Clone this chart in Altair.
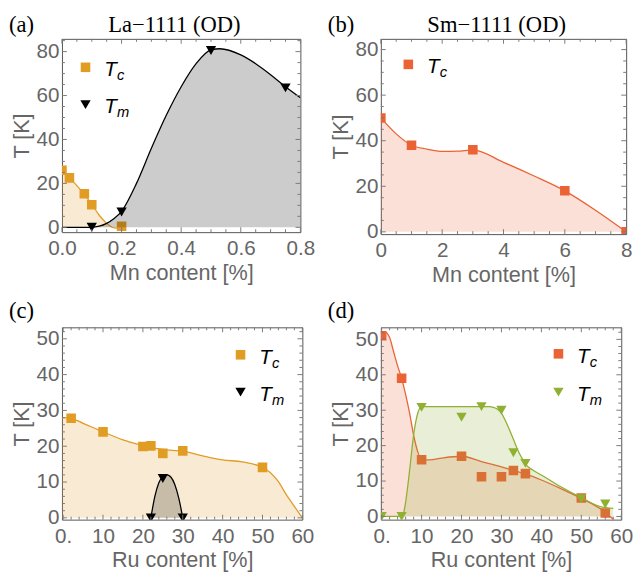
import altair as alt
import pandas as pd

# ---------------- data ----------------
# (a) La-1111 (OD) vs Mn content [%]
a_tc_x = [0.0, 0.025, 0.075, 0.1, 0.2]
a_tc_y = [26.0, 22.5, 15.3, 10.3, 0.5]
a_tm_x = [0.1, 0.2, 0.5, 0.75]
a_tm_y = [0.0, 7.0, 80.5, 63.5]
a_tc_fit_x = [0.0, 0.025, 0.05, 0.075, 0.1, 0.125, 0.15, 0.175, 0.2]
a_tc_fit_y = [26.0, 22.5, 19.0, 15.0, 10.5, 5.5, 1.8, -0.3, -0.5]
a_tm_fit_x = [0.0, 0.05, 0.1, 0.125, 0.15, 0.175, 0.2, 0.25, 0.3, 0.35, 0.4,
              0.45, 0.5, 0.53, 0.6, 0.65, 0.7, 0.75, 0.8]
a_tm_fit_y = [0.0, 0.0, 0.0, 0.5, 1.8, 4.0, 7.3, 20.0, 36.0, 51.0, 64.0,
              74.5, 80.8, 81.3, 78.5, 74.5, 69.5, 64.0, 59.0]

# (b) Sm-1111 (OD) vs Mn content [%]
b_tc_x = [0, 1, 3, 6, 8]
b_tc_y = [50, 38, 36, 18, 0]
b_tc_fit_x = [0, 0.5, 1, 1.5, 2, 2.5, 3, 4, 5, 6, 7, 8]
b_tc_fit_y = [50, 43, 38, 36.3, 35.3, 35.4, 36, 30.5, 24.5, 18, 9.5, 0]

# (c) vs Ru content [%]
c_tc_x = [2, 10, 20, 22, 25, 30, 50]
c_tc_y = [27.8, 24, 19.9, 20.1, 18, 18.7, 14.1]
c_tm_x = [22, 25, 30]
c_tm_y = [0, 11, 0]
c_tc_fit_x = [-0.3, 2, 5, 10, 15, 20, 22, 25, 30, 35, 40, 45, 50, 52, 54, 56, 58, 60]
c_tc_fit_y = [28, 27.8, 26.4, 24, 21.8, 20.2, 19.7, 19.1, 18.6, 17.3, 16.2, 15.6,
              14.1, 12.6, 10.1, 6.4, 3.2, 0]
c_tm_fit_x = [22, 23, 24, 25, 26, 27, 28, 29, 30]
c_tm_fit_y = [0, 6, 9.8, 11.5, 12, 11.4, 9.3, 5.5, 0]

# (d) vs Ru content [%]
d_tc_x = [0, 5, 10, 20, 25, 30, 33, 36, 50, 56]
d_tc_y = [51, 39, 16, 17, 11.2, 11.2, 13, 12.1, 5.2, 1]
d_tm_x = [0, 5, 10, 20, 25, 30, 33, 36, 50, 56]
d_tm_y = [0, 0, 30.8, 28, 31, 30, 18, 15, 5, 3.5]
d_tc_fit_x = [0, 1, 2, 3, 4, 5, 6, 7, 8, 9, 10, 12, 15, 20, 25, 30, 33, 36, 40,
              45, 50, 55, 58]
d_tc_fit_y = [51, 52, 50.5, 46.5, 42.5, 39, 34.5, 29.2, 23, 18.4, 16, 16, 16.5,
              17, 15.5, 14, 13, 12, 10.3, 7.8, 5.1, 2, -0.8]
d_tm_fit_x = [0, 5, 5.5, 6, 7, 8, 9, 10, 15, 20, 25, 27, 28, 29, 30, 31, 32, 33,
              34, 35, 36, 38, 40, 45, 50, 55, 58]
d_tm_fit_y = [0, 0, 1, 4, 13, 23, 29, 31, 31, 31, 31, 31, 30.8, 30.3, 29.2, 27,
              24.5, 21.8, 19, 16.7, 14.8, 13, 11.7, 8.3, 5.3, 2.7, 2.3]

# axis tick values / labels
mn_a_ticks = [0.0, 0.2, 0.4, 0.6, 0.8]
mn_b_ticks = [0, 2, 4, 6, 8]
ru_ticks = [0, 10, 20, 30, 40, 50, 60]
t_ticks_80 = [0, 20, 40, 60, 80]
t_ticks_50 = [0, 10, 20, 30, 40, 50]

panel_titles = ["La\u22121111 (OD)", "Sm\u22121111 (OD)"]
panel_tags = ["(a)", "(b)", "(c)", "(d)"]

# ---------------- style ----------------
YELLOW = "#E19C24"
RED = "#EB6235"
GREEN = "#8FB032"
BLACK = "#000000"
GRAY_TXT = "#666666"
TICK_C = "#7a7a7a"
SANS = "Liberation Sans"
SERIF = "Liberation Serif"


def minor(lo, hi, step, majors):
    out = []
    v = lo
    while v <= hi + 1e-9:
        if all(abs(v - m) > 1e-9 for m in majors):
            out.append(round(v, 6))
        v += step
    return out


def text1(txt, x, y, size, font=SANS, style="normal", color=BLACK, align="left",
          baseline="alphabetic"):
    return alt.Chart(pd.DataFrame({"t": [txt]})).mark_text(
        font=font, fontSize=size, fontStyle=style, color=color,
        align=align, baseline=baseline
    ).encode(text="t:N", x=alt.value(x), y=alt.value(y))


def legend_entry(shape, color, x, y, sub):
    mk = alt.Chart(pd.DataFrame({"k": [0]})).mark_point(
        shape=shape, filled=True, size=95 if shape == "square" else 110,
        color=color, opacity=1
    ).encode(x=alt.value(x), y=alt.value(y))
    t = text1("T", x + 19, y + 9, 21, style="italic")
    s = text1(sub, x + 32, y + 13, 15, style="italic")
    return [mk, t, s]


def panel(W, H, xdom, ydom, xt, xminor_step, yt, yminor_step, xtitle, xfmt,
          xlabelexpr, series, legend, tag, title, tag_dy):
    xaxis_kw = dict(values=xt, title=xtitle, format=xfmt)
    if xlabelexpr:
        xaxis_kw["labelExpr"] = xlabelexpr
    X = alt.X("x:Q", scale=alt.Scale(domain=xdom, nice=False, zero=False),
              axis=alt.Axis(**xaxis_kw))
    Y = alt.Y("y:Q", scale=alt.Scale(domain=ydom, nice=False, zero=False),
              axis=alt.Axis(values=yt, title="T [K]"))
    layers = []
    for (px, py, fx, fy, color, shape) in series:
        fit = pd.DataFrame({"x": fx, "y": fy})
        pts = pd.DataFrame({"x": px, "y": py})
        layers.append(alt.Chart(fit).mark_area(
            interpolate="monotone", color=color, opacity=0.2, clip=True
        ).encode(x=X, y=Y, y2=alt.datum(0)))
        layers.append(alt.Chart(fit).mark_line(
            interpolate="monotone", color=color, strokeWidth=1.3, clip=True
        ).encode(x=X, y=Y))
        layers.append(alt.Chart(pts).mark_point(
            shape=shape, filled=True, opacity=1, color=color,
            size=95 if shape == "square" else 110, clip=True
        ).encode(x=X, y=Y))
    # inward frame ticks
    xmin = minor(xdom[0] if xdom[0] >= 0 else 0, xdom[1], xminor_step, xt)
    ymin = minor(0, ydom[1], yminor_step, yt)
    for vals, ln in ((xt, 5), (xmin, 3)):
        df = pd.DataFrame({"x": vals})
        layers.append(alt.Chart(df).mark_rule(color=TICK_C, strokeWidth=1).encode(
            x=X, y=alt.value(H), y2=alt.value(H - ln)))
        layers.append(alt.Chart(df).mark_rule(color=TICK_C, strokeWidth=1).encode(
            x=X, y=alt.value(0), y2=alt.value(ln)))
    for vals, ln in ((yt, 5), (ymin, 3)):
        df = pd.DataFrame({"y": vals})
        layers.append(alt.Chart(df).mark_rule(color=TICK_C, strokeWidth=1).encode(
            y=Y, x=alt.value(0), x2=alt.value(ln)))
        layers.append(alt.Chart(df).mark_rule(color=TICK_C, strokeWidth=1).encode(
            y=Y, x=alt.value(W), x2=alt.value(W - ln)))
    for (shape, color, lx, ly, sub) in legend:
        layers += legend_entry(shape, color, lx, ly, sub)
    layers.append(text1(tag, -54, tag_dy, 23, font=SERIF, baseline="top"))
    if title:
        layers.append(text1(title, W / 2 - 7, tag_dy, 23, font=SERIF, align="center",
                            baseline="top"))
    return alt.layer(*layers).properties(width=W, height=H)


pa = panel(243, 197, [0, 0.8], [-2.2, 85.8], mn_a_ticks, 0.05, t_ticks_80, 5,
           "Mn content [%]", ".1f", None,
           [(a_tc_x, a_tc_y, a_tc_fit_x, a_tc_fit_y, YELLOW, "square"),
            (a_tm_x, a_tm_y, a_tm_fit_x, a_tm_fit_y, BLACK, "triangle-down")],
           [("square", YELLOW, 24, 29, "c"), ("triangle-down", BLACK, 24, 67, "m")],
           panel_tags[0], panel_titles[0], -25)

pb = panel(250, 199, [0, 8], [-1, 84.7], mn_b_ticks, 0.5, t_ticks_80, 5,
           "Mn content [%]", "d", None,
           [(b_tc_x, b_tc_y, b_tc_fit_x, b_tc_fit_y, RED, "square")],
           [("square", RED, 28, 26, "c")],
           panel_tags[1], panel_titles[1], -25)

pc = panel(245, 196, [-0.3, 60], [-0.5, 53.2], ru_ticks, 2, t_ticks_50, 2,
           "Ru content [%]", "d", "datum.value == 0 ? '0.' : datum.label",
           [(c_tc_x, c_tc_y, c_tc_fit_x, c_tc_fit_y, YELLOW, "square"),
            (c_tm_x, c_tm_y, c_tm_fit_x, c_tm_fit_y, BLACK, "triangle-down")],
           [("square", YELLOW, 182, 28, "c"), ("triangle-down", BLACK, 182, 66, "m")],
           panel_tags[2], None, -28)

pd_ = panel(245, 196, [-0.2, 60], [-0.9, 53.4], ru_ticks, 2, t_ticks_50, 2,
            "Ru content [%]", "d", "datum.value == 0 ? '0.' : datum.label",
            [(d_tc_x, d_tc_y, d_tc_fit_x, d_tc_fit_y, RED, "square"),
             (d_tm_x, d_tm_y, d_tm_fit_x, d_tm_fit_y, GREEN, "triangle-down")],
            [("square", RED, 181, 27, "c"), ("triangle-down", GREEN, 181, 66, "m")],
            panel_tags[3], None, -28)

chart = alt.concat(pa, pb, pc, pd_, columns=2,
                   spacing={"row": 95, "column": 80}, bounds="flush").properties(
    padding=0
).configure_view(
    stroke="#555555", strokeWidth=1
).configure_axis(
    domain=False, ticks=False, tickSize=0, grid=False,
    labelFont=SANS, labelFontSize=21, labelColor=GRAY_TXT, labelPadding=4,
    labelFlush=False, labelOverlap=False,
    titleFont=SANS, titleFontSize=22, titleFontWeight="normal", titleColor=GRAY_TXT,
    titlePadding=6
).configure_axisX(labelPadding=6, titlePadding=4
).configure_axisY(labelPadding=3, titlePadding=3)

chart.save("out.html", embed_options={"renderer": "svg", "actions": False})
